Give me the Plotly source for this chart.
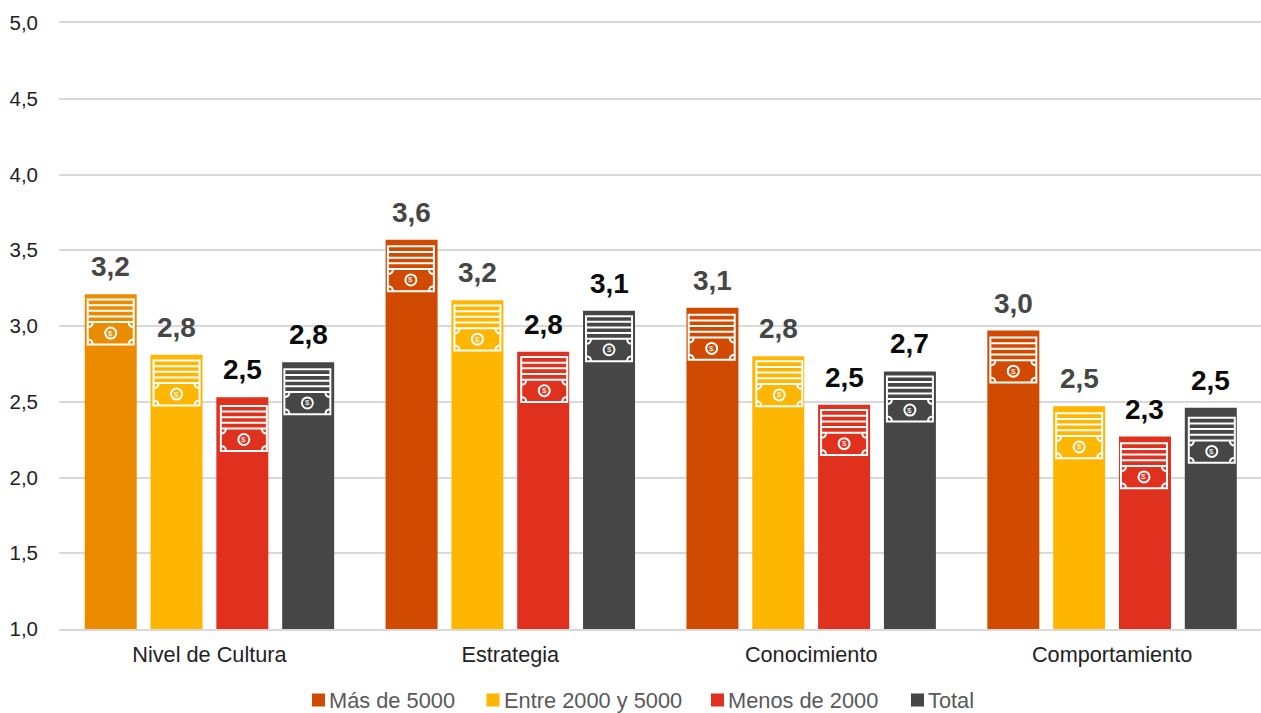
import plotly.graph_objects as go

# Chart data: average score per dimension and company size
categories = ["Nivel de Cultura", "Estrategia", "Conocimiento", "Comportamiento"]
series_names = ["Más de 5000", "Entre 2000 y 5000", "Menos de 2000", "Total"]
mas_5000 = [3.21, 3.57, 3.12, 2.97]
entre_2000_5000 = [2.81, 3.17, 2.80, 2.47]
menos_2000 = [2.53, 2.83, 2.48, 2.27]
total = [2.76, 3.10, 2.70, 2.46]
y_ticks = [1.0, 1.5, 2.0, 2.5, 3.0, 3.5, 4.0, 4.5, 5.0]

# Styling
series_colors = ["#D04A02", "#FFB600", "#E0301E", "#464646"]
first_bar_color = "#EB8C00"
label_colors = ["#464646", "#464646", "#0A0A0A", "#0A0A0A"]
FONT = "Liberation Sans"
BARGAP = 0.125
GROUPGAP = 0.21
SLOT = (1 - BARGAP) / 4

# Banknote pictogram placement per bar, in pixels: drop below the bar top and sideways nudge
icon_drop = [
    [5.3, 6.7, 7.0, 7.0],
    [5.7, 5.3, 5.0, 7.0],
    [8.7, 5.3, 5.3, 6.7],
    [7.0, 5.3, 5.0, 10.0],
]
icon_nudge = [
    [0, -0.7, -0.8, 0],
    [0, 0, 1, 0],
    [1.5, 1, 0, -1],
    [-0.8, 0, 0, 1],
]

# Legend layout: left edge of each swatch in pixels, and its row centre
legend_left = [312, 486.5, 711, 911]
LEGEND_Y = 700
WIDTH, HEIGHT = 1261, 713


def icon_path(drop, nudge):
    """Stack of notes above a banknote, in pixel offsets from the bar's top centre."""
    half = 23
    left, right = nudge - half, nudge + half
    top, note_top, bottom = drop, drop + 22.6, drop + 45
    parts = [f"M{left},{-top}L{right},{-top}L{right},{-bottom}L{left},{-bottom}Z"]
    for i in (1, 2, 3, 4):
        y = top + i * 5.65
        parts.append(f"M{left},{-y}L{right},{-y}")
    # concave corners of the note
    r = 5
    for cx, sx in ((left, 1), (right, -1)):
        parts.append(
            f"M{cx},{-(note_top + r)}Q{cx + sx * r},{-(note_top + r)} {cx + sx * r},{-note_top}"
        )
        parts.append(
            f"M{cx},{-(bottom - r)}Q{cx + sx * r},{-(bottom - r)} {cx + sx * r},{-bottom}"
        )
    # coin in the middle of the note
    cy = note_top + 11
    c, k = 5.5, 5.5 * 0.5523
    parts.append(
        f"M{nudge - c},{-cy}"
        f"C{nudge - c},{-(cy - k)} {nudge - k},{-(cy - c)} {nudge},{-(cy - c)}"
        f"C{nudge + k},{-(cy - c)} {nudge + c},{-(cy - k)} {nudge + c},{-cy}"
        f"C{nudge + c},{-(cy + k)} {nudge + k},{-(cy + c)} {nudge},{-(cy + c)}"
        f"C{nudge - k},{-(cy + c)} {nudge - c},{-(cy + k)} {nudge - c},{-cy}Z"
    )
    return "".join(parts)


all_series = [mas_5000, entre_2000_5000, menos_2000, total]

fig = go.Figure()
for s, (name, values) in enumerate(zip(series_names, all_series)):
    colors = [series_colors[s]] * len(values)
    if s == 0:
        colors[0] = first_bar_color
    fig.add_bar(
        name=name,
        x=categories,
        y=values,
        marker=dict(color=colors, line_width=0),
        showlegend=False,
    )

shapes = []
annotations = []
for s, values in enumerate(all_series):
    for c, value in enumerate(values):
        centre = c + (s - 1.5) * SLOT
        drop, nudge = icon_drop[s][c], icon_nudge[s][c]
        shapes.append(dict(
            type="path",
            xref="x", yref="y",
            xsizemode="pixel", ysizemode="pixel",
            xanchor=centre, yanchor=value,
            path=icon_path(drop, nudge),
            line=dict(color="white", width=2),
            fillcolor="rgba(0,0,0,0)",
            layer="above",
        ))
        annotations.append(dict(
            x=centre, y=value, xref="x", yref="y",
            xshift=nudge, yshift=-(drop + 33.6),
            text="$", showarrow=False,
            font=dict(family=FONT, size=8, color="white"),
        ))
        # value label above the bar
        annotations.append(dict(
            x=centre, y=value, xref="x", yref="y",
            yshift=27.5, yanchor="middle",
            text=f"{value:.1f}".replace(".", ","), showarrow=False,
            font=dict(family=FONT, size=28, color=label_colors[s], weight="bold"),
        ))

# Legend row: swatch plus label for each series
for s, name in enumerate(series_names):
    x0 = legend_left[s]
    shapes.append(dict(
        type="rect", xref="paper", yref="paper",
        xsizemode="pixel", ysizemode="pixel",
        xanchor=(x0 - 59) / (WIDTH - 59), yanchor=(629 - LEGEND_Y) / 606,
        x0=0, x1=13, y0=-6.5, y1=6.5,
        fillcolor=series_colors[s], line_width=0,
    ))
    annotations.append(dict(
        xref="paper", yref="paper",
        x=(x0 + 17 - 59) / (WIDTH - 59), y=(629 - LEGEND_Y) / 606,
        xanchor="left", yanchor="middle", xshift=-2,
        text=name, showarrow=False,
        font=dict(family=FONT, size=21.8, color="#595959"),
    ))

fig.update_layout(
    width=WIDTH,
    height=HEIGHT,
    barmode="group",
    bargap=BARGAP,
    bargroupgap=GROUPGAP,
    separators=",.",
    showlegend=False,
    paper_bgcolor="white",
    plot_bgcolor="white",
    margin=dict(l=59, r=0, t=23, b=84, pad=0),
    font=dict(family=FONT),
    xaxis=dict(
        type="category",
        range=[-0.5, 3.495],
        showgrid=False,
        showline=True,
        mirror=True,
        linecolor="#D9D9D9",
        linewidth=1.5,
        ticks="",
        ticklabelstandoff=5,
        tickfont=dict(family=FONT, size=21.7, color="#222222"),
    ),
    yaxis=dict(
        range=[1, 5],
        tickvals=y_ticks,
        tickformat=".1f",
        showgrid=True,
        gridcolor="#D9D9D9",
        gridwidth=1.5,
        zeroline=False,
        showline=False,
        ticks="",
        ticklabelstandoff=20,
        tickfont=dict(family=FONT, size=20.5, color="#222222"),
    ),
    shapes=shapes,
    annotations=annotations,
)

fig.write_html("out.html")
